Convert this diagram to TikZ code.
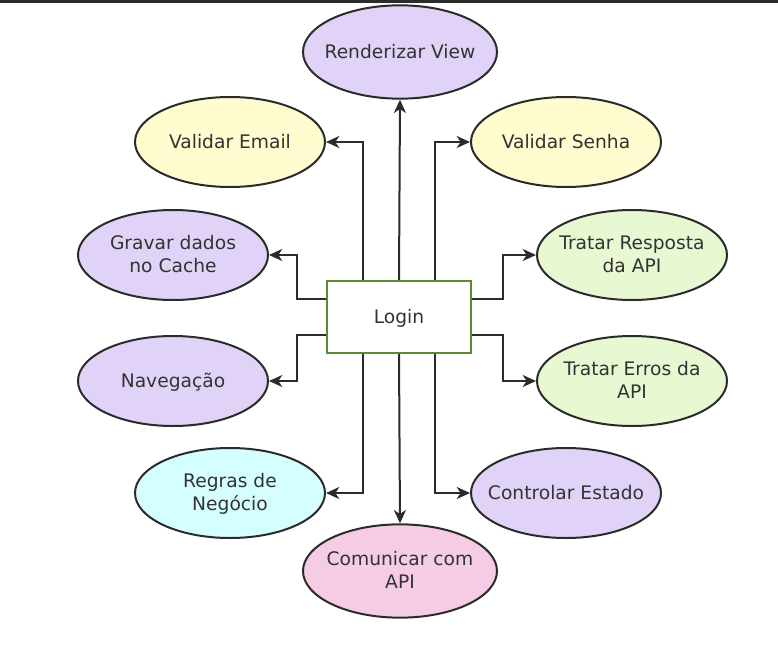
\documentclass[tikz,border=0pt]{standalone}
\usepackage{fontspec}
\setmainfont{DejaVu Sans}
\usetikzlibrary{shapes.geometric,arrows.meta}
\definecolor{lilac}{HTML}{E1D3F8}
\definecolor{pyellow}{HTML}{FFFCD0}
\definecolor{pgreen}{HTML}{E7F8D2}
\definecolor{pcyan}{HTML}{D5FEFF}
\definecolor{ppink}{HTML}{F6CCE4}
\definecolor{edge}{HTML}{2B2B2B}
\definecolor{txt}{HTML}{333333}
\definecolor{lgreen}{HTML}{5B8A36}
\newcommand\ovt[1]{\makebox[0pt]{\raisebox{-4.8pt}[0pt][0pt]{\begin{tabular}{@{}c@{}}#1\end{tabular}}}}
\tikzset{
  oval/.style={ellipse, draw=edge, line width=1.5pt, minimum width=142.5pt, minimum height=67.5pt, inner sep=0pt, text=txt, font=\fontsize{14}{17}\selectfont},
  bigoval/.style={oval, minimum width=145.5pt, minimum height=70pt},
  loginbox/.style={rectangle, draw=lgreen, line width=1.5pt, fill=white, minimum width=108pt, minimum height=54pt, inner sep=0pt, text=txt, font=\fontsize{14}{17}\selectfont},
  arr/.style={draw=edge, line width=1.5pt, -{Stealth[length=10pt,width=9pt,inset=3pt]}},
}
\begin{document}
\begin{tikzpicture}[x=0.75pt,y=-0.75pt]
\useasboundingbox (0,0) rectangle (778,664);
\fill[fill=edge] (0,0) rectangle (778,3);
\node[loginbox] (login) at (399,317) {\ovt{Login}};
\node[bigoval, fill=lilac] (view) at (400,52) {\ovt{Renderizar View}};
\node[oval, fill=pyellow] (email) at (230,142) {\ovt{Validar Email}};
\node[oval, fill=pyellow] (senha) at (566,142) {\ovt{Validar Senha}};
\node[oval, fill=lilac] (cache) at (173,255) {\ovt{Gravar dados\\no Cache}};
\node[oval, fill=pgreen] (resp) at (632,255) {\ovt{Tratar Resposta\\da API}};
\node[oval, fill=lilac] (nav) at (173,381) {\ovt{Navegação}};
\node[oval, fill=pgreen] (erros) at (632,381) {\ovt{Tratar Erros da\\API}};
\node[oval, fill=pcyan] (regras) at (230,493) {\ovt{Regras de\\Negócio}};
\node[oval, fill=lilac] (estado) at (566,493) {\ovt{Controlar Estado}};
\node[bigoval, fill=ppink] (api) at (400,571) {\ovt{Comunicar com\\API}};
\draw[arr] (login.north) -- (view.south);
\draw[arr] ([xshift=-27pt]login.north) |- (email.east);
\draw[arr] ([xshift=27pt]login.north) |- (senha.west);
\draw[arr] ([yshift=13.5pt]login.west) -- ++(-29,0) |- (cache.east);
\draw[arr] ([yshift=-13.5pt]login.west) -- ++(-29,0) |- (nav.east);
\draw[arr] ([yshift=13.5pt]login.east) -- ++(31,0) |- (resp.west);
\draw[arr] ([yshift=-13.5pt]login.east) -- ++(31,0) |- (erros.west);
\draw[arr] (login.south) -- (api.north);
\draw[arr] ([xshift=-27pt]login.south) |- (regras.east);
\draw[arr] ([xshift=27pt]login.south) |- (estado.west);
\end{tikzpicture}
\end{document}
